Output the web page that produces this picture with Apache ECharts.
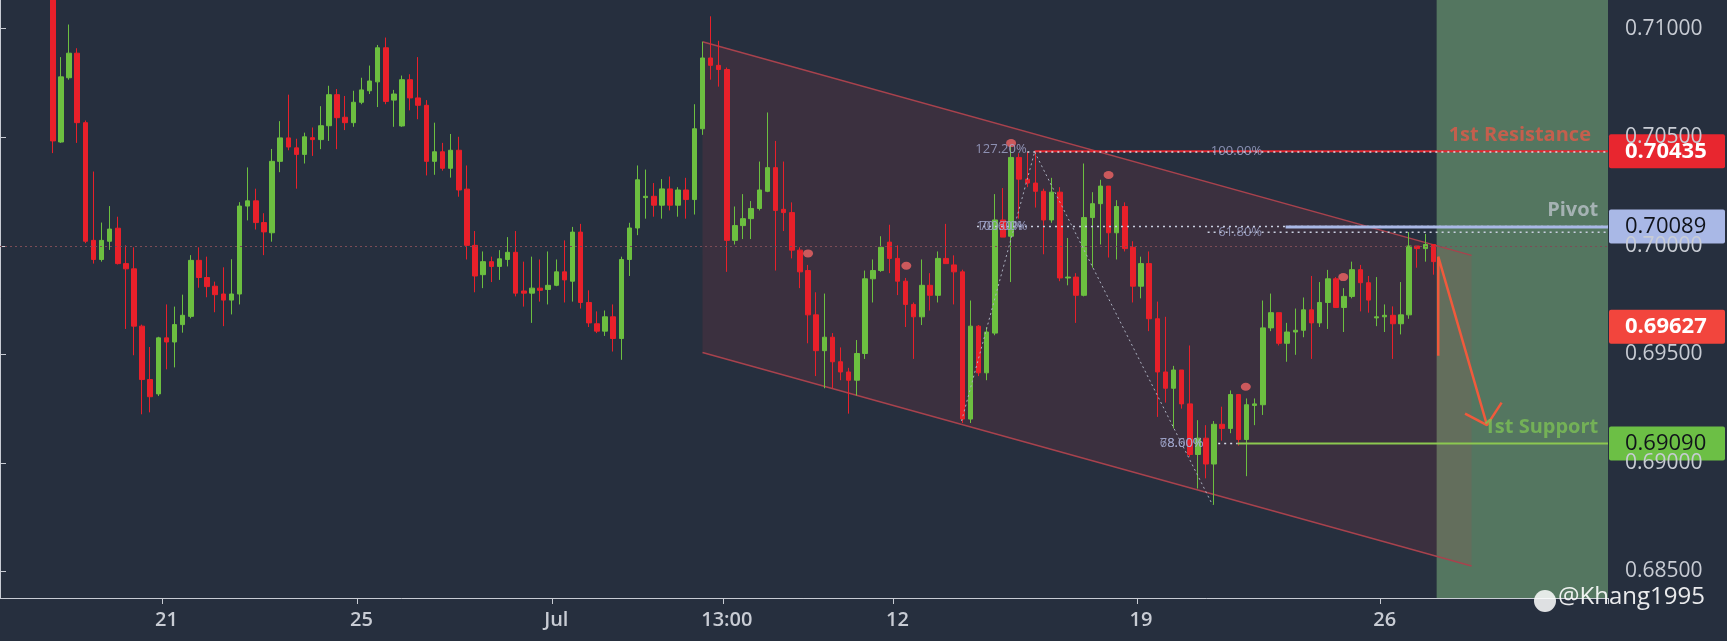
<!DOCTYPE html>
<html><head><meta charset="utf-8">
<script src="https://cdn.jsdelivr.net/npm/echarts@6/dist/echarts.min.js"></script>
<style>html,body{margin:0;padding:0;background:#262f3e;}#c{width:1727px;height:641px;}</style>
</head><body><div id="c"></div>
<script>
const slotCount = 198;
const firstCandle = 6;
const tickIndex = [20, 44, 68, 89, 110, 140, 170];
const tickText = ['21', '25', 'Jul', '13:00', '12', '19', '26'];
const priceTicks = [0.71, 0.705, 0.70, 0.695, 0.69, 0.685];
// [open, close, low, high]
const ohlc = [
[.7125,.70483,.70427,.7130],[.70478,.70778,.70474,.70869],[.70774,.70887,.70765,.71019],[.70887,.70567,.70474,.7091],
[.70567,.70021,.70012,.70577],[.70025,.69937,.69918,.70342],[.69937,.70025,.69927,.70107],[.70021,.70077,.69981,.70183],
[.70081,.69918,.69914,.70134],[.69918,.69894,.69617,.70002],[.69894,.6963,.69496,.69993],[.6963,.69384,.69224,.69637],
[.69384,.69305,.69233,.69534],[.69318,.69576,.69308,.69581],[.69576,.69557,.69431,.6973],[.69557,.69637,.6944,.6972],
[.69637,.6968,.696,.69775],[.69675,.69933,.69666,.69957],[.69933,.69854,.69807,.69993],[.69854,.69812,.69763,.6995],
[.69814,.69775,.69694,.69835],[.69778,.6975,.6963,.69901],[.6975,.69778,.69684,.69938],[.69778,.70183,.6973,.70201],
[.70183,.70207,.70117,.70361],[.70207,.70107,.70075,.70263],[.70107,.70064,.69957,.7015],[.7006,.70389,.70019,.70446],
[.70389,.70497,.70339,.70574],[.70497,.70455,.7044,.70696],[.70451,.70421,.70263,.70493],[.70421,.70502,.70379,.70521],
[.70498,.70489,.70414,.70545],[.70489,.70553,.70445,.70643],[.70553,.70696,.70483,.70737],[.70696,.7059,.70445,.70722],
[.70592,.70567,.70533,.7069],[.70567,.70661,.70548,.70714],[.70661,.70718,.70652,.70774],[.70714,.70759,.70699,.7083],
[.70755,.70912,.70639,.70925],[.70912,.70665,.70652,.70959],[.70671,.70699,.70548,.70718],[.70552,.70765,.70548,.70784],
[.70765,.70681,.70624,.7079],[.70681,.70647,.70583,.70869],[.70647,.70389,.70324,.70671],[.70389,.70433,.70327,.70567],
[.70433,.70357,.70346,.70474],[.70357,.7044,.70314,.70515],[.7044,.70257,.70226,.70502],[.70261,.70002,.69937,.7037],
[.70002,.69861,.69786,.70068],[.69867,.69927,.69805,.69974],[.69927,.69905,.69833,.6995],[.69905,.6994,.69843,.6998],
[.69937,.6997,.69905,.7004],[.6997,.69782,.69767,.70068],[.69792,.69782,.6972,.69927],[.69782,.69805,.69645,.6995],
[.69805,.69795,.69743,.69937],[.69799,.69818,.6973,.69974],[.69818,.6988,.69814,.69937],[.6988,.69843,.69739,.70025],
[.69837,.70063,.69743,.70087],[.70063,.69739,.69711,.70101],[.69739,.69645,.69626,.69795],[.69641,.69607,.69598,.69698],
[.69607,.69673,.69585,.69702],[.69673,.69573,.69513,.6973],[.69573,.69937,.69475,.6995],[.69937,.70082,.69861,.70106],
[.70082,.70304,.70049,.7037],[.70222,.70228,.70125,.70351],[.70228,.70187,.70134,.70289],[.70187,.70262,.70125,.70307],
[.70262,.70187,.70163,.70319],[.70187,.70257,.70134,.7027],[.70257,.70213,.70125,.70313],[.70213,.70539,.70144,.70652],
[.70539,.70865,.70511,.7094],[.70865,.70831,.70765,.71057],[.70831,.70812,.70733,.70944],[.70812,.70025,.6988,.70821],
[.70025,.70093,.70006,.70181],[.70093,.70125,.70031,.70238],[.70125,.70172,.70031,.70206],[.70172,.70257,.70163,.70388],
[.70251,.7036,.70247,.70614],[.7036,.70163,.69886,.70483],[.70168,.70153,.70068,.70388],[.70153,.6998,.69942,.702],
[.6998,.6988,.69805,.69993],[.69886,.69682,.69551,.69912],[.69682,.69517,.694,.69786],[.69517,.69579,.69344,.6978],
[.69579,.69466,.69344,.69598],[.69466,.69419,.69381,.69532],[.69419,.69381,.69227,.69438],[.69381,.69504,.6931,.69566],
[.69504,.69848,.69479,.69886],[.69848,.69886,.69739,.69937],[.69886,.69993,.6988,.70044],[.70017,.69942,.69874,.70097],
[.69942,.69837,.69773,.70002],[.69837,.6973,.69626,.69852],[.6973,.69673,.69479,.69739],[.69673,.69818,.69635,.69937],
[.69818,.69772,.69702,.69874],[.69772,.69942,.69739,.69974],[.69942,.69918,.69918,.70101],[.69912,.6988,.6973,.69956],
[.6988,.69202,.69184,.6989],[.69202,.6963,.69184,.69748],[.6963,.69415,.694,.69635],[.69415,.69603,.69381,.69626],
[.69598,.70119,.69588,.70238],[.70119,.7004,.7004,.70266],[.70044,.70407,.69833,.70464],[.70407,.70307,.70125,.70426],
[.70307,.70289,.7027,.70432],[.70289,.70251,.70176,.70432],[.70251,.70119,.69961,.70263],[.70119,.70247,.70106,.70313],
[.70247,.69852,.69837,.7027],[.69852,.69856,.69818,.70036],[.69856,.69772,.69645,.69874],[.69772,.7013,.69767,.70379],
[.7013,.70194,.69899,.70247],[.70194,.70275,.70006,.70304],[.70275,.7006,.69946,.70275],[.7006,.70181,.69937,.7021],
[.70181,.69987,.69974,.702],[.69993,.69814,.69739,.70021],[.69814,.69918,.69758,.6995],[.69918,.69664,.69607,.69974],
[.69664,.69419,.69212,.69743],[.69419,.69344,.69278,.69673],[.69344,.69428,.69159,.69447],[.69428,.69272,.6925,.69428],
[.69272,.69039,.69028,.69541],[.69039,.69114,.68882,.69197],[.69114,.68995,.68929,.69174],[.68995,.69178,.68807,.69193],
[.69178,.69159,.69103,.69259],[.69159,.69315,.69137,.69334],[.69315,.69108,.6908,.69315],[.69108,.69268,.68939,.69297],
[.69265,.69272,.69174,.69297],[.69268,.69622,.69221,.69748],[.69622,.69692,.69607,.6978],[.69692,.69551,.69541,.69692],
[.69551,.69603,.69466,.69645],[.69603,.69611,.69498,.69711],[.69611,.69705,.69579,.69762],[.69705,.69645,.69479,.69861],
[.69645,.69739,.69626,.69833],[.69739,.69848,.69617,.69889],[.69848,.69716,.69716,.69856],[.69716,.69767,.69603,.69805],
[.69767,.6989,.69758,.69927],[.6989,.6983,.69698,.69912],[.6983,.6975,.69692,.69861],[.69668,.69673,.6963,.69856],
[.69673,.6968,.69603,.6973],[.6968,.69641,.69479,.69721],[.69641,.69682,.69592,.69833],[.69682,.69999,.69664,.70063],
[.69999,.69987,.69899,.69999],[.69987,.70006,.69927,.70055],[.70006,.69927,.69867,.70006]
];
const resistance = 0.70435, pivot = 0.70089, current = 0.69627, support = 0.6909;
const priceTags = [[resistance, '#e8262f', '#ffffff', 'bold'], [pivot, '#a9b8e6', '#10131a', 'normal'],
  [current, '#f2453d', '#ffffff', 'bold'], [support, '#6cbf45', '#10131a', 'normal']];
const channelUpper = [[86.5, 0.7094], [181.2, 0.69956]];
const channelLower = [[86.5, 0.69509], [181.2, 0.68525]];
const zoneStart = 176.9;
const fibLegA = [[118.4, 0.69193], [127.4, 0.70432]];
const fibLegB = [[127.4, 0.70432], [149.3, 0.68807]];
const signalDots = [[99.5, 0.69965], [111.6, 0.69908], [124.5, 0.70473], [136.5, 0.70326], [153.4, 0.69351], [165.4, 0.69856]];
const arrowBody = [[177.1, 0.69494], [177.1, 0.6995], [183.1, 0.69174]];
const arrowHead = [[180.4, 0.69227], [183.1, 0.69174], [184.9, 0.69278]];
const fibTexts = [[120.1, 0.70445, '127.20%'], [149.1, 0.70435, '100.00%'], [120.2, 0.70089, '100.00%'], [120.6, 0.70089, '70.60%'],
  [150, 0.70062, '61.80%'], [142.8, 0.6909, '78.60%'], [142.8, 0.6909, '68.00%']];
const levelTexts = [[195.9, 0.7051, '1st Resistance', '#e05a48'], [196.8, 0.70164, 'Pivot', '#b9c2c8'], [196.8, 0.69166, '1st Support', '#7cc155']];

const categories = Array.from({length: slotCount}, (_, i) => String(i));
const labelMap = {}; tickIndex.forEach((k, j) => labelMap[k] = tickText[j]);
const candleData = categories.map((_, i) => (i >= firstCandle && i < firstCandle + ohlc.length) ? ohlc[i - firstCandle] : '-');
const textCol = '#c8ccd4';
const font = 'Open Sans';
function seg(data, color, width, type, z) {
  return {type: 'line', xAxisIndex: 1, data, symbol: 'none', silent: true, z: z || 5,
    lineStyle: {color, width, type: type || 'solid'}};
}
const chart = echarts.init(document.getElementById('c'));
chart.setOption({
  backgroundColor: '#262f3e',
  animation: false,
  grid: {left: 0, right: 119, top: 0, bottom: 43},
  xAxis: [{type: 'category', data: categories, boundaryGap: true,
    axisLine: {show: true, lineStyle: {color: textCol, width: 1}},
    axisTick: {show: true, interval: (i) => labelMap[i] !== undefined, length: 6, lineStyle: {color: textCol}},
    axisLabel: {interval: 0, formatter: (v, i) => labelMap[i] || '', color: textCol, fontSize: 20, fontWeight: 600, fontFamily: font, margin: 12},
    splitLine: {show: false}},
    {type: 'value', min: 0, max: slotCount, show: false}],
  yAxis: {type: 'value', position: 'right', min: 0.68378, max: 0.71132, scale: true,
    axisLine: {show: true, lineStyle: {color: textCol}},
    axisTick: {show: true, customValues: priceTicks, length: 6, lineStyle: {color: textCol}},
    axisLabel: {customValues: priceTicks, formatter: (v) => v.toFixed(5), color: textCol, fontSize: 21, fontFamily: font, margin: 17},
    splitLine: {show: false}},
  series: [
    {type: 'custom', xAxisIndex: 1, data: [0], z: 1, silent: true,
      renderItem: (params, api) => {
        const u0 = api.coord(channelUpper[0]), u1 = api.coord(channelUpper[1]);
        const l0 = api.coord(channelLower[0]), l1 = api.coord(channelLower[1]);
        return {type: 'group', children: [
          {type: 'polygon', shape: {points: [u0, u1, l1, l0]}, style: {fill: 'rgba(200,60,70,0.13)'}},
          {type: 'line', shape: {x1: u0[0], y1: u0[1], x2: u1[0], y2: u1[1]}, style: {stroke: '#a8424d', lineWidth: 1.5}},
          {type: 'line', shape: {x1: l0[0], y1: l0[1], x2: l1[0], y2: l1[1]}, style: {stroke: '#a8424d', lineWidth: 1.5}}
        ]};
      },
      markArea: {silent: true, itemStyle: {color: 'rgba(130,190,130,0.5)'}, data: [[{xAxis: zoneStart}, {xAxis: slotCount}]]}},
    {type: 'candlestick', data: candleData, barWidth: 5, z: 3,
      itemStyle: {color: '#6cbf40', color0: '#e8202a', borderColor: '#6cbf40', borderColor0: '#e8202a', borderWidth: 1},
      markLine: {symbol: 'none', silent: true, label: {show: false},
        data: [{yAxis: current, lineStyle: {color: '#7d4c56', type: [2, 3], width: 1}}]}},
    seg([[127.4, resistance], [slotCount, resistance]], '#e8262f', 2, 'solid', 6),
    seg([[126.5, resistance - 0.00003], [slotCount, resistance - 0.00003]], '#d8dce8', 1.5, [2, 4], 6),
    seg([[120.3, pivot], [slotCount, pivot]], '#c9cfe0', 1.5, [2, 4], 6),
    seg([[148.7, 0.70062], [slotCount, 0.70062]], '#c9cfe0', 1.5, [2, 4], 6),
    seg([[158.3, pivot - 0.00002], [slotCount, pivot - 0.00002]], '#a9b8e6', 3, 'solid', 6),
    seg([[150, support], [152.4, support]], '#d8dce8', 1.5, [2, 4], 6),
    seg([[152.4, support], [slotCount, support]], '#8cc850', 2, 'solid', 6),
    seg(fibLegA, '#aab0c0', 1, [2, 3], 6),
    seg(fibLegB, '#aab0c0', 1, [2, 3], 6),
    seg(arrowBody, '#f05a3c', 2.5, 'solid', 8),
    seg(arrowHead, '#f05a3c', 2.5, 'solid', 8),
    {type: 'scatter', xAxisIndex: 1, data: signalDots, symbol: 'circle', symbolSize: [10, 8], z: 7,
      itemStyle: {color: '#f06464'}, silent: true},
    {type: 'scatter', xAxisIndex: 1, data: fibTexts, symbolSize: 0, z: 7, silent: true,
      label: {show: true, position: 'right', distance: 0, formatter: (p) => p.data[2], color: '#a3a9d0', fontSize: 13, fontFamily: font}},
    {type: 'scatter', xAxisIndex: 1, data: levelTexts.map(d => ({value: [d[0], d[1]], name: d[2],
        label: {color: d[3]}})), symbolSize: 0, z: 9, silent: true,
      label: {show: true, position: 'left', distance: 0, formatter: (p) => p.name, fontSize: 20, fontWeight: 'bold', fontFamily: font}}
  ]
});
// price tags on the right axis, positioned through the chart's own y scale
const axisX = chart.convertToPixel({xAxisIndex: 1}, slotCount);
const tagGraphics = priceTags.map(t => {
  const y = chart.convertToPixel({yAxisIndex: 0}, t[0]);
  return {type: 'group', x: axisX + 1, y: y, z: 50, children: [
    {type: 'rect', shape: {x: 0, y: -17, width: 116, height: 34, r: 2}, style: {fill: t[1]}},
    {type: 'text', x: 16, y: 0, style: {text: t[0].toFixed(5), fill: t[2], fontSize: 22, fontWeight: t[3], fontFamily: font, verticalAlign: 'middle'}}
  ]};
});
tagGraphics.push(
  {type: 'circle', shape: {cx: 1545, cy: 601, r: 11}, style: {fill: 'rgba(255,255,255,0.85)'}, z: 20},
  {type: 'text', right: 22, top: 585, style: {text: '@Khang1995', fill: 'rgba(255,255,255,0.9)', fontSize: 24, fontFamily: font}, z: 20});
chart.setOption({graphic: tagGraphics});
</script></body></html>
